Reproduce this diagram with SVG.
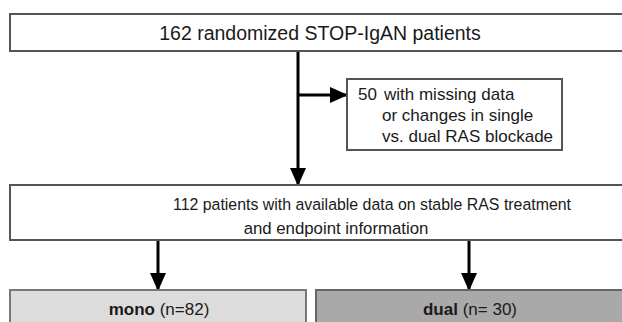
<svg xmlns="http://www.w3.org/2000/svg" width="622" height="322" viewBox="0 0 622 322">
  <style>
    .box { fill: #ffffff; stroke: #555555; stroke-width: 2; }
    .txt { font-family: "Liberation Sans", Arial, sans-serif; font-size: 17px; fill: #1a1a1a; }
    .big { font-size: 19.5px; }
    .mid { font-size: 16.8px; }
    .b { font-weight: bold; }
    .conn { stroke: #000000; stroke-width: 3; fill: none; }
  </style>
  <defs>
    <marker id="arrow" markerUnits="userSpaceOnUse" markerWidth="18" markerHeight="16" viewBox="0 0 18 16" refX="17" refY="8" orient="auto">
      <path d="M0,0 L18,8 L0,16 Z" fill="#000000"/>
    </marker>
  </defs>
  <rect width="622" height="322" fill="#ffffff"/>

  <g id="connectors">
    <line class="conn" x1="298" y1="51" x2="298" y2="185" marker-end="url(#arrow)"/>
    <line class="conn" x1="298" y1="95" x2="347" y2="95" marker-end="url(#arrow)"/>
    <line class="conn" x1="158" y1="240" x2="158" y2="290" marker-end="url(#arrow)"/>
    <line class="conn" x1="469" y1="240" x2="469" y2="290" marker-end="url(#arrow)"/>
  </g>

  <g id="randomized">
    <rect class="box" x="10" y="14" width="620" height="37"/>
    <text class="txt big" x="320" y="40" text-anchor="middle">162 randomized STOP-IgAN patients</text>
  </g>

  <g id="excluded">
    <rect class="box" x="347" y="79" width="215" height="71"/>
    <text class="txt" x="358" y="100">50 <tspan x="384">with missing data</tspan></text>
    <text class="txt" x="382" y="121">or changes in single</text>
    <text class="txt" x="382" y="142">vs. dual RAS blockade</text>
  </g>

  <g id="available">
    <rect class="box" x="10" y="185" width="620" height="55"/>
    <text class="txt mid" x="173" y="210" textLength="398" lengthAdjust="spacingAndGlyphs">112 patients with available data on stable RAS treatment</text>
    <text class="txt mid" x="336" y="234" text-anchor="middle">and endpoint information</text>
  </g>

  <g id="mono">
    <rect x="10" y="290" width="296" height="40" fill="#dcdcdc" stroke="#777777" stroke-width="2"/>
    <text class="txt" x="159" y="315" text-anchor="middle"><tspan class="b">mono</tspan> (n=82)</text>
  </g>

  <g id="dual">
    <rect x="316" y="290" width="320" height="40" fill="#a9a9a9" stroke="#666666" stroke-width="2"/>
    <text class="txt" x="470" y="315" text-anchor="middle"><tspan class="b">dual</tspan> (n= 30)</text>
  </g>
</svg>
